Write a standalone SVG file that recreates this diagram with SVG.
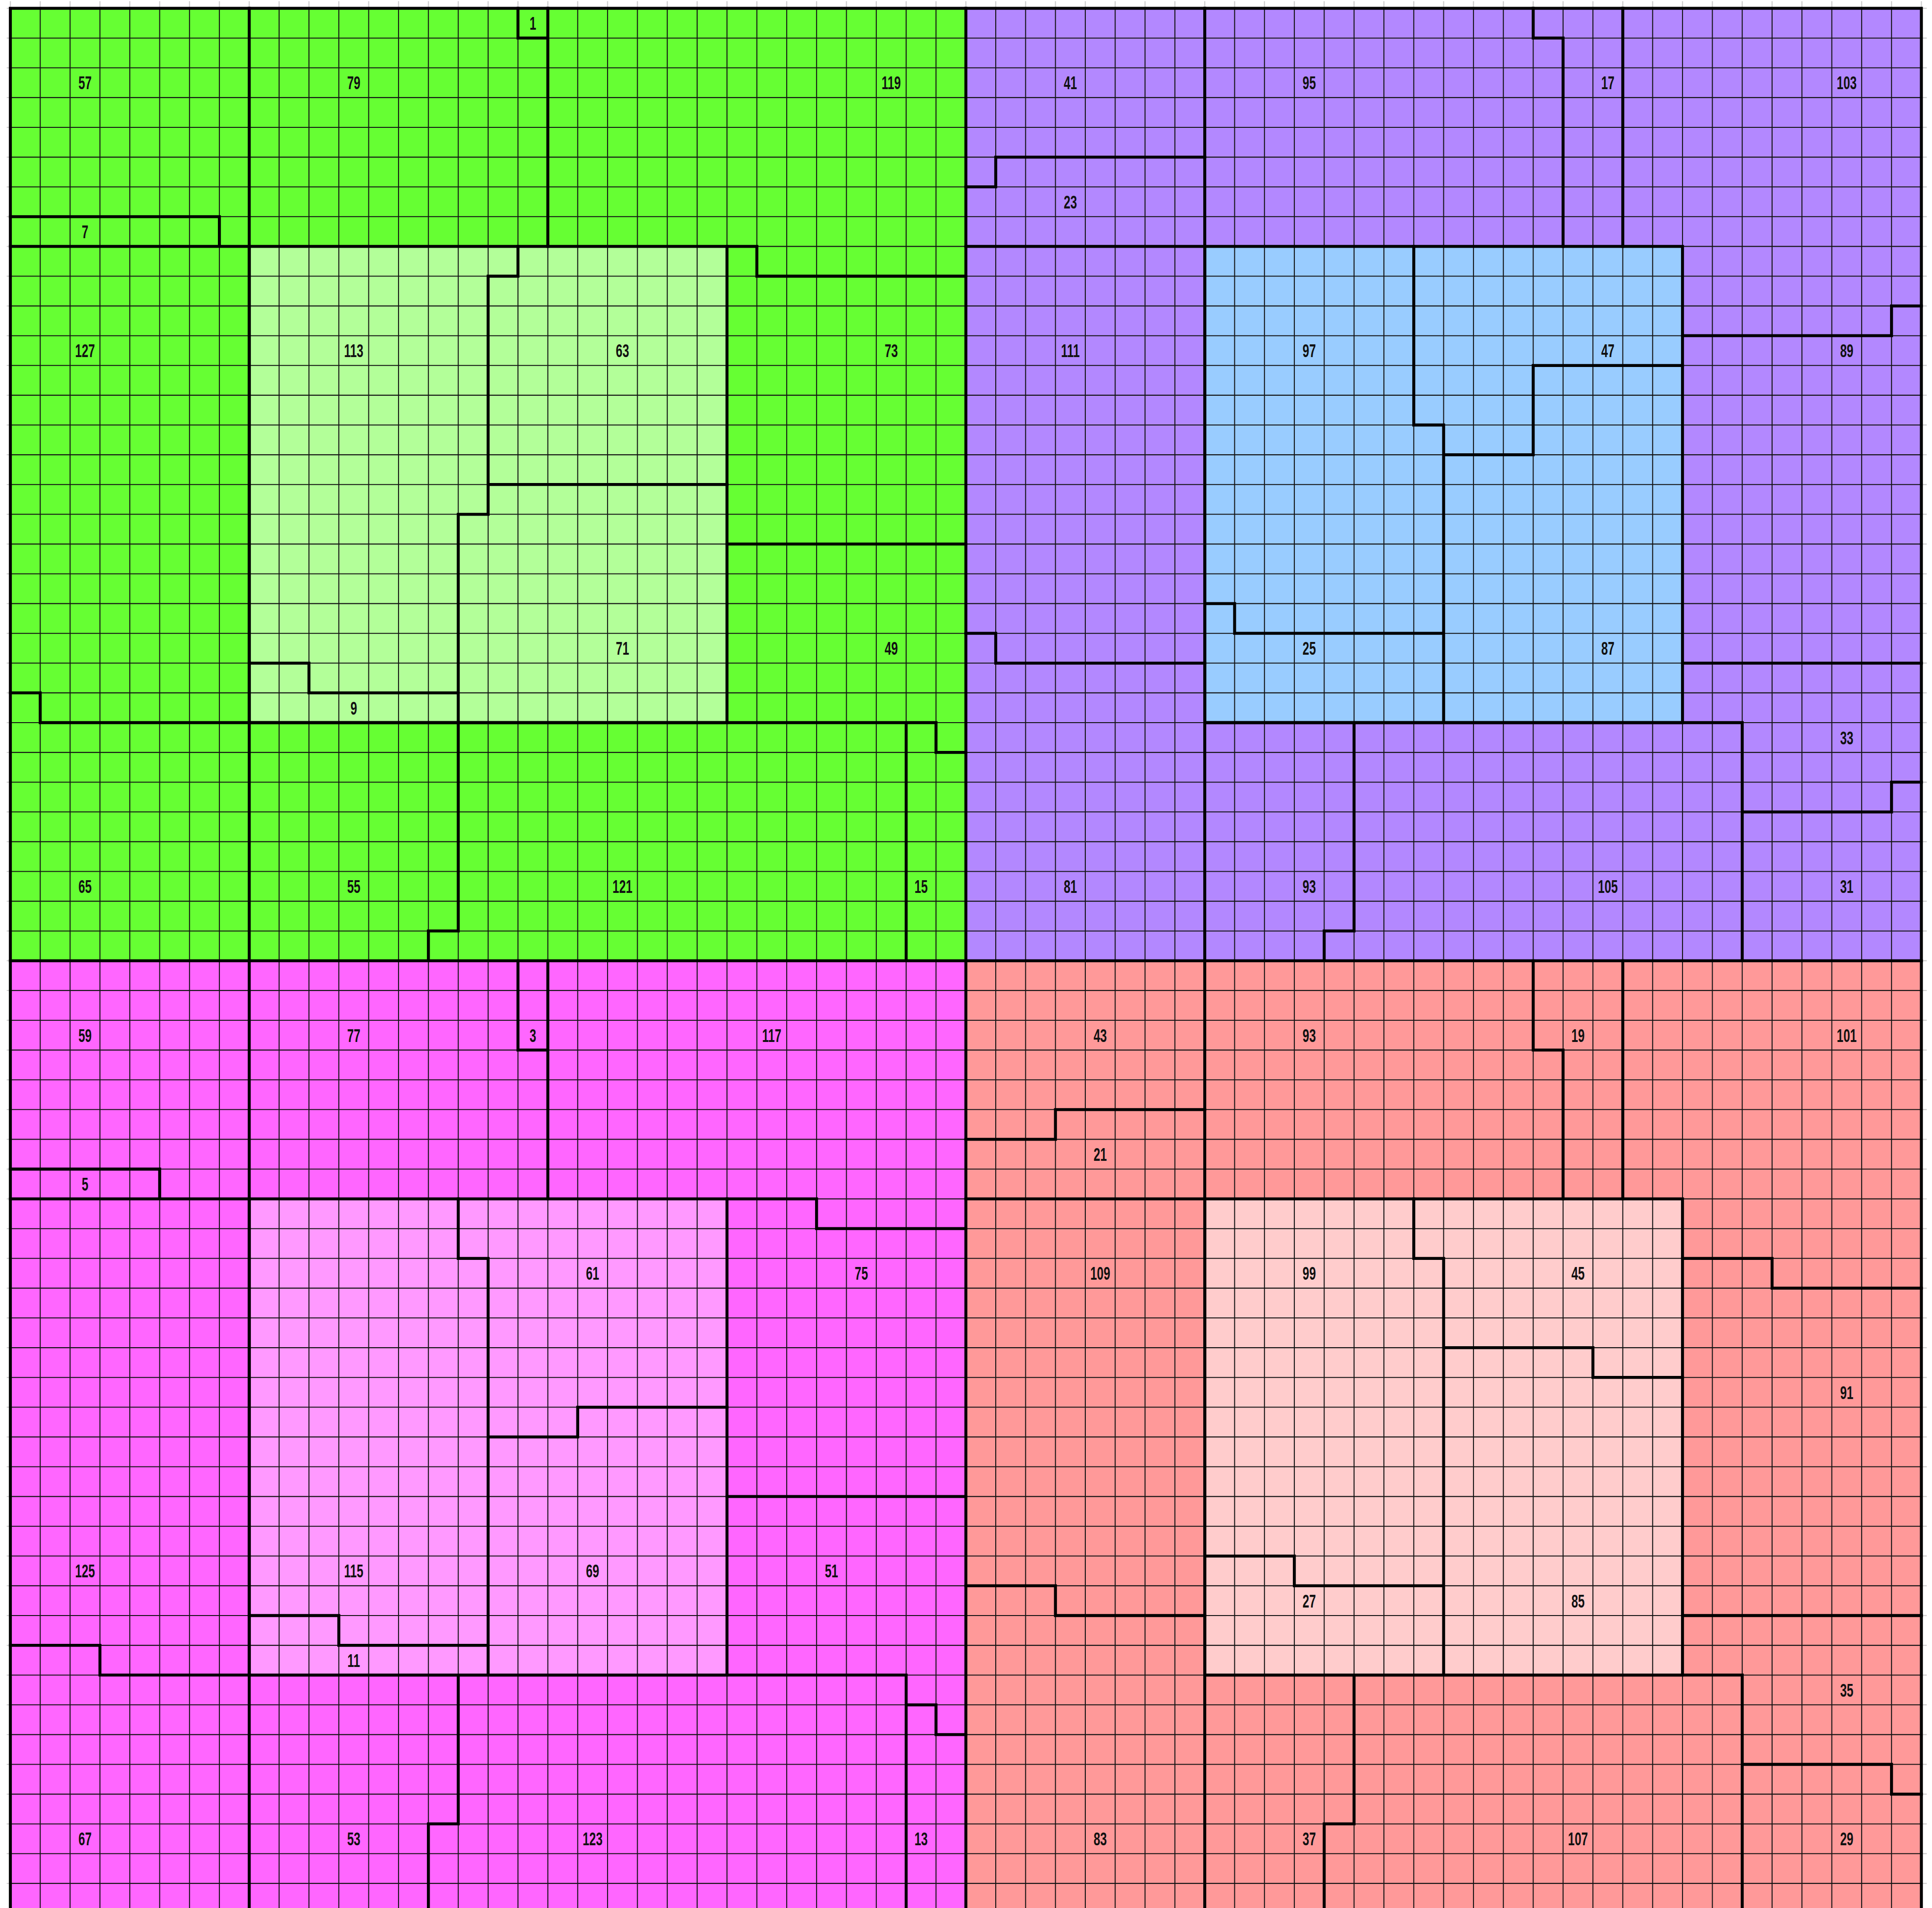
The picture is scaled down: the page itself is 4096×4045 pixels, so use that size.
<svg xmlns="http://www.w3.org/2000/svg" width="4096" height="4045" viewBox="0 0 4096 4045">
<style>
.thin{fill:none;stroke:#141414;stroke-width:2.1;vector-effect:non-scaling-stroke}
.tick{fill:none;stroke:#cfcfcf;stroke-width:2.4;vector-effect:non-scaling-stroke}
.thick{fill:none;stroke:#000;stroke-width:6.3;stroke-linecap:square;stroke-linejoin:miter;vector-effect:non-scaling-stroke}
.lbl{font-family:"Liberation Sans",Arial,sans-serif;font-weight:bold;font-size:39.5px;fill:#111;text-anchor:middle}
</style>
<rect x="0" y="0" width="4096" height="4045" fill="#fff"/>
<g id="grid" transform="translate(21.97,17.58) scale(63.305,63.1)">
<path class="tick" d="M0 -0.24V64M1 -0.24V64M2 -0.24V64M3 -0.24V64M4 -0.24V64M5 -0.24V64M6 -0.24V64M7 -0.24V64M8 -0.24V64M9 -0.24V64M10 -0.24V64M11 -0.24V64M12 -0.24V64M13 -0.24V64M14 -0.24V64M15 -0.24V64M16 -0.24V64M17 -0.24V64M18 -0.24V64M19 -0.24V64M20 -0.24V64M21 -0.24V64M22 -0.24V64M23 -0.24V64M24 -0.24V64M25 -0.24V64M26 -0.24V64M27 -0.24V64M28 -0.24V64M29 -0.24V64M30 -0.24V64M31 -0.24V64M32 -0.24V64M33 -0.24V64M34 -0.24V64M35 -0.24V64M36 -0.24V64M37 -0.24V64M38 -0.24V64M39 -0.24V64M40 -0.24V64M41 -0.24V64M42 -0.24V64M43 -0.24V64M44 -0.24V64M45 -0.24V64M46 -0.24V64M47 -0.24V64M48 -0.24V64M49 -0.24V64M50 -0.24V64M51 -0.24V64M52 -0.24V64M53 -0.24V64M54 -0.24V64M55 -0.24V64M56 -0.24V64M57 -0.24V64M58 -0.24V64M59 -0.24V64M60 -0.24V64M61 -0.24V64M62 -0.24V64M63 -0.24V64M64 -0.24V64M-0.12 0H64.18M-0.12 1H64.18M-0.12 2H64.18M-0.12 3H64.18M-0.12 4H64.18M-0.12 5H64.18M-0.12 6H64.18M-0.12 7H64.18M-0.12 8H64.18M-0.12 9H64.18M-0.12 10H64.18M-0.12 11H64.18M-0.12 12H64.18M-0.12 13H64.18M-0.12 14H64.18M-0.12 15H64.18M-0.12 16H64.18M-0.12 17H64.18M-0.12 18H64.18M-0.12 19H64.18M-0.12 20H64.18M-0.12 21H64.18M-0.12 22H64.18M-0.12 23H64.18M-0.12 24H64.18M-0.12 25H64.18M-0.12 26H64.18M-0.12 27H64.18M-0.12 28H64.18M-0.12 29H64.18M-0.12 30H64.18M-0.12 31H64.18M-0.12 32H64.18M-0.12 33H64.18M-0.12 34H64.18M-0.12 35H64.18M-0.12 36H64.18M-0.12 37H64.18M-0.12 38H64.18M-0.12 39H64.18M-0.12 40H64.18M-0.12 41H64.18M-0.12 42H64.18M-0.12 43H64.18M-0.12 44H64.18M-0.12 45H64.18M-0.12 46H64.18M-0.12 47H64.18M-0.12 48H64.18M-0.12 49H64.18M-0.12 50H64.18M-0.12 51H64.18M-0.12 52H64.18M-0.12 53H64.18M-0.12 54H64.18M-0.12 55H64.18M-0.12 56H64.18M-0.12 57H64.18M-0.12 58H64.18M-0.12 59H64.18M-0.12 60H64.18M-0.12 61H64.18M-0.12 62H64.18M-0.12 63H64.18M-0.12 64H64.18"/>
<g id="fills">
<rect x="0" y="0" width="32" height="32" fill="#66FF33"/>
<rect x="32" y="0" width="32" height="32" fill="#B388FF"/>
<rect x="0" y="32" width="32" height="32" fill="#FF66FF"/>
<rect x="32" y="32" width="32" height="32" fill="#FF9999"/>
<rect x="8" y="8" width="16" height="16" fill="#B3FF99"/>
<rect x="40" y="8" width="16" height="16" fill="#99CCFF"/>
<rect x="8" y="40" width="16" height="16" fill="#FF99FF"/>
<rect x="40" y="40" width="16" height="16" fill="#FFCCCC"/>
</g>
<path class="thin" d="M1 0V64M2 0V64M3 0V64M4 0V64M5 0V64M6 0V64M7 0V64M8 0V64M9 0V64M10 0V64M11 0V64M12 0V64M13 0V64M14 0V64M15 0V64M16 0V64M17 0V64M18 0V64M19 0V64M20 0V64M21 0V64M22 0V64M23 0V64M24 0V64M25 0V64M26 0V64M27 0V64M28 0V64M29 0V64M30 0V64M31 0V64M32 0V64M33 0V64M34 0V64M35 0V64M36 0V64M37 0V64M38 0V64M39 0V64M40 0V64M41 0V64M42 0V64M43 0V64M44 0V64M45 0V64M46 0V64M47 0V64M48 0V64M49 0V64M50 0V64M51 0V64M52 0V64M53 0V64M54 0V64M55 0V64M56 0V64M57 0V64M58 0V64M59 0V64M60 0V64M61 0V64M62 0V64M63 0V64M0 1H64M0 2H64M0 3H64M0 4H64M0 5H64M0 6H64M0 7H64M0 8H64M0 9H64M0 10H64M0 11H64M0 12H64M0 13H64M0 14H64M0 15H64M0 16H64M0 17H64M0 18H64M0 19H64M0 20H64M0 21H64M0 22H64M0 23H64M0 24H64M0 25H64M0 26H64M0 27H64M0 28H64M0 29H64M0 30H64M0 31H64M0 32H64M0 33H64M0 34H64M0 35H64M0 36H64M0 37H64M0 38H64M0 39H64M0 40H64M0 41H64M0 42H64M0 43H64M0 44H64M0 45H64M0 46H64M0 47H64M0 48H64M0 49H64M0 50H64M0 51H64M0 52H64M0 53H64M0 54H64M0 55H64M0 56H64M0 57H64M0 58H64M0 59H64M0 60H64M0 61H64M0 62H64M0 63H64"/>
<g id="boundaries">
<rect class="thick" x="0" y="0" width="64" height="64"/>
<rect class="thick" x="8" y="8" width="16" height="16"/>
<rect class="thick" x="40" y="8" width="16" height="16"/>
<rect class="thick" x="8" y="40" width="16" height="16"/>
<rect class="thick" x="40" y="40" width="16" height="16"/>
<path class="thick" d="M32 0V64M0 32H64M8 0V64M40 0V64"/>
<path id="tl-lines" class="thick" d="M0 7H7V8M0 8H8M17 0V1H18M18 0V8M24 8H25V9H32M24 18H32M0 23H1V24H31V25H32M17 8V9H16V16H24M16 16V17H15V31H14V32M8 22H10V23H15M30 24V32"/>
<path id="tr-lines" class="thick" d="M32 6H33V5H40M32 8H40M51 0V1H52V8M54 0V8M56 11H63V10H64M56 22H64M32 21H33V22H40M47 8V14H48V24M48 15H51V12H56M40 20H41V21H48M40 24H58V32M58 27H63V26H64M45 24V31H44V32"/>
<path id="bl-lines" class="thick" d="M0 39H5V40M0 40H8M17 32V35H18M18 32V40M24 40H27V41H32M15 40V42H16V56M16 48H19V47H24M8 54H11V55H16M24 50H32M0 55H3V56H30V64M30 57H31V58H32M15 56V61H14V64"/>
<path id="br-lines" class="thick" d="M32 38H35V37H40M32 40H40M51 32V35H52V40M54 32V40M56 42H59V43H64M56 54H64M32 53H35V54H40M47 40V42H48V56M48 45H53V46H56M40 52H43V53H48M40 56H58V64M58 59H63V60H64M45 56V61H44V64"/>
</g>
</g>
<g id="labels" transform="scale(0.64,1)" class="lbl">
<g id="labels-tl">
<text x="281.6" y="189.5">57</text>
<text x="1171.8" y="189.5">79</text>
<text x="1765.3" y="63.3">1</text>
<text x="2952.3" y="189.5">119</text>
<text x="281.6" y="505.0">7</text>
<text x="281.6" y="757.4">127</text>
<text x="1171.8" y="757.4">113</text>
<text x="2062.0" y="757.4">63</text>
<text x="2952.3" y="757.4">73</text>
<text x="2062.0" y="1388.4">71</text>
<text x="2952.3" y="1388.4">49</text>
<text x="1171.8" y="1514.6">9</text>
<text x="281.6" y="1893.2">65</text>
<text x="1171.8" y="1893.2">55</text>
<text x="2062.0" y="1893.2">121</text>
<text x="3051.3" y="1893.2">15</text>
</g>
<g id="labels-tr">
<text x="3545.8" y="189.5">41</text>
<text x="4337.0" y="189.5">95</text>
<text x="5326.3" y="189.5">17</text>
<text x="6117.5" y="189.5">103</text>
<text x="3545.8" y="441.9">23</text>
<text x="3545.8" y="757.4">111</text>
<text x="4337.0" y="757.4">97</text>
<text x="5326.3" y="757.4">47</text>
<text x="6117.5" y="757.4">89</text>
<text x="4337.0" y="1388.4">25</text>
<text x="5326.3" y="1388.4">87</text>
<text x="6117.5" y="1577.7">33</text>
<text x="3545.8" y="1893.2">81</text>
<text x="4337.0" y="1893.2">93</text>
<text x="5326.3" y="1893.2">105</text>
<text x="6117.5" y="1893.2">31</text>
</g>
<g id="labels-bl">
<text x="281.6" y="2208.7">59</text>
<text x="1171.8" y="2208.7">77</text>
<text x="1765.3" y="2208.7">3</text>
<text x="2556.6" y="2208.7">117</text>
<text x="281.6" y="2524.2">5</text>
<text x="1963.1" y="2713.5">61</text>
<text x="2853.4" y="2713.5">75</text>
<text x="281.6" y="3344.5">125</text>
<text x="1171.8" y="3344.5">115</text>
<text x="1963.1" y="3344.5">69</text>
<text x="2754.5" y="3344.5">51</text>
<text x="1171.8" y="3533.8">11</text>
<text x="281.6" y="3912.4">67</text>
<text x="1171.8" y="3912.4">53</text>
<text x="1963.1" y="3912.4">123</text>
<text x="3051.3" y="3912.4">13</text>
</g>
<g id="labels-br">
<text x="3644.7" y="2208.7">43</text>
<text x="4337.0" y="2208.7">93</text>
<text x="5227.3" y="2208.7">19</text>
<text x="6117.5" y="2208.7">101</text>
<text x="3644.7" y="2461.1">21</text>
<text x="3644.7" y="2713.5">109</text>
<text x="4337.0" y="2713.5">99</text>
<text x="5227.3" y="2713.5">45</text>
<text x="6117.5" y="2965.9">91</text>
<text x="4337.0" y="3407.6">27</text>
<text x="5227.3" y="3407.6">85</text>
<text x="6117.5" y="3596.9">35</text>
<text x="3644.7" y="3912.4">83</text>
<text x="4337.0" y="3912.4">37</text>
<text x="5227.3" y="3912.4">107</text>
<text x="6117.5" y="3912.4">29</text>
</g>
</g>
</svg>
